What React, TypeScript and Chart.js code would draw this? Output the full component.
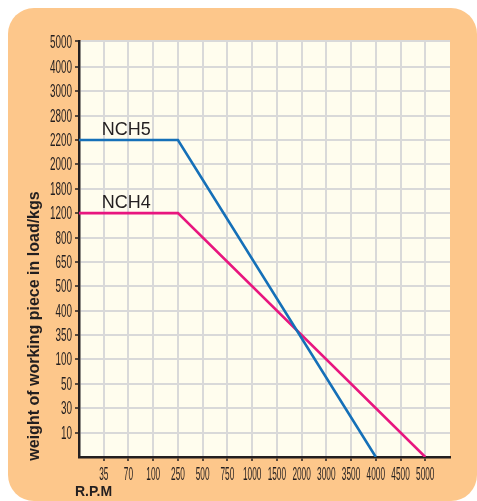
import React, { useEffect, useRef } from 'react';
import { Chart, registerables } from 'chart.js';

Chart.register(...registerables);

// Axis tick labels (category-like, evenly spaced)
const rpmTicks = ['35', '70', '100', '250', '500', '750', '1000', '1500', '2000', '3000', '3500', '4000', '4500', '5000'];
const loadTicks = ['10', '30', '50', '100', '350', '400', '500', '650', '800', '1200', '1800', '2000', '2200', '2800', '3000', '4000', '5000'];

// Series
const seriesNames = ['NCH5', 'NCH4'];
const nch5Rpm = ['0', '250', '4000'];
const nch5Load = ['2200', '2200', '0'];
const nch4Rpm = ['0', '250', '5000'];
const nch4Load = ['1200', '1200', '0'];

const xTitle = 'R.P.M';
const yTitle = 'weight of working piece in load/kgs';

const pos = (ticks: string[], v: string) => (v === '0' ? 0 : ticks.indexOf(v) + 1);
const toPoints = (rpm: string[], load: string[]) =>
  rpm.map((r, i) => ({ x: pos(rpmTicks, r), y: pos(loadTicks, load[i]) }));

const TEXT = '#231f20';

const decor = {
  id: 'decor',
  beforeDraw(chart: any) {
    const { ctx, chartArea } = chart;
    ctx.save();
    ctx.fillStyle = '#FFFDEE';
    ctx.fillRect(chartArea.left, chartArea.top, chartArea.right - chartArea.left, chartArea.bottom - chartArea.top);
    ctx.restore();
  },
  afterDraw(chart: any) {
    const { ctx, chartArea } = chart;
    const xs = chart.scales.x;
    const ys = chart.scales.y;
    ctx.save();
    ctx.fillStyle = TEXT;
    ctx.font = '18px "Liberation Sans", Arial, sans-serif';
    ctx.textBaseline = 'middle';
    loadTicks.forEach((t, i) => {
      const y = ys.getPixelForValue(i + 1);
      ctx.save();
      ctx.translate(chartArea.left - 7, y + 1);
      ctx.scale(0.55, 1);
      ctx.textAlign = 'right';
      ctx.fillText(t, 0, 0);
      ctx.restore();
    });
    rpmTicks.forEach((t, i) => {
      const x = xs.getPixelForValue(i + 1);
      ctx.save();
      ctx.translate(x, chartArea.bottom + 18);
      ctx.scale(0.46, 1);
      ctx.textAlign = 'center';
      ctx.fillText(t, 0, 0);
      ctx.restore();
    });
    // series labels
    ctx.font = '18px "Liberation Sans", Arial, sans-serif';
    ctx.textAlign = 'left';
    ctx.textBaseline = 'alphabetic';
    ctx.fillText(seriesNames[0], xs.getPixelForValue(1) - 2, ys.getPixelForValue(pos(loadTicks, nch5Load[0])) - 5);
    ctx.fillText(seriesNames[1], xs.getPixelForValue(1) - 2, ys.getPixelForValue(pos(loadTicks, nch4Load[0])) - 5);
    // axis titles
    ctx.font = 'bold 14px "Liberation Sans", Arial, sans-serif';
    ctx.textBaseline = 'middle';
    ctx.fillText(xTitle, 75, 492);
    ctx.save();
    ctx.translate(35, 326);
    ctx.rotate(-Math.PI / 2);
    ctx.font = 'bold 16px "Liberation Sans", Arial, sans-serif';
    ctx.textAlign = 'center';
    ctx.fillText(yTitle, 0, 0);
    ctx.restore();
    ctx.restore();
  },
};

export default function App() {
  const ref = useRef<HTMLCanvasElement>(null);
  useEffect(() => {
    if (!ref.current) return;
    const xMax = rpmTicks.length + 1;
    const yMax = loadTicks.length + 0.06;
    const chart = new Chart(ref.current, {
      type: 'line',
      data: {
        datasets: [
          {
            label: seriesNames[0],
            data: toPoints(nch5Rpm, nch5Load),
            borderColor: '#1570B8',
            borderWidth: 2.6,
            pointRadius: 0,
            tension: 0,
          },
          {
            label: seriesNames[1],
            data: toPoints(nch4Rpm, nch4Load),
            borderColor: '#E8167F',
            borderWidth: 2.6,
            pointRadius: 0,
            tension: 0,
          },
        ],
      },
      options: {
        animation: false,
        responsive: false,
        layout: { padding: { left: 0, top: 41, right: 27, bottom: 0 } },
        plugins: { legend: { display: false }, tooltip: { enabled: false } },
        scales: {
          x: {
            type: 'linear',
            min: 0,
            max: xMax,
            afterFit: (s: any) => { s.height = 44; },
            ticks: { display: false, stepSize: 1 },
            grid: {
              color: (c: any) => (c.tick && c.tick.value >= xMax ? 'rgba(0,0,0,0)' : '#D9D9D9'),
              lineWidth: 2,
              drawTicks: true,
              tickLength: 4,
              tickColor: (c: any) => (c.tick && (c.tick.value <= 0 || c.tick.value >= xMax) ? 'rgba(0,0,0,0)' : '#231f20'),
              tickWidth: 1.5,
            },
            border: { display: true, color: '#231f20', width: 2.5 },
          },
          y: {
            type: 'linear',
            min: 0,
            max: yMax,
            afterFit: (s: any) => { s.width = 79; },
            ticks: { display: false, stepSize: 1 },
            grid: {
              color: '#D9D9D9',
              lineWidth: 2,
              drawTicks: true,
              tickLength: 4,
              tickColor: (c: any) => (c.tick && c.tick.value <= 0 ? 'rgba(0,0,0,0)' : '#231f20'),
              tickWidth: 1.5,
            },
            border: { display: true, color: '#231f20', width: 2.5 },
          },
        },
      },
      plugins: [decor],
    } as any);
    return () => chart.destroy();
  }, []);
  return (
    <div style={{ position: 'fixed', left: 0, top: 0, width: 477, height: 501, background: '#fff', overflow: 'hidden' }}>
      <div
        style={{
          position: 'absolute',
          left: 8,
          top: 8,
          width: 469,
          height: 493,
          background: '#FDC78B',
          borderRadius: 26,
        }}
      />
      <canvas ref={ref} width={477} height={501} style={{ position: 'absolute', left: 0, top: 0, width: 477, height: 501 }} />
    </div>
  );
}
